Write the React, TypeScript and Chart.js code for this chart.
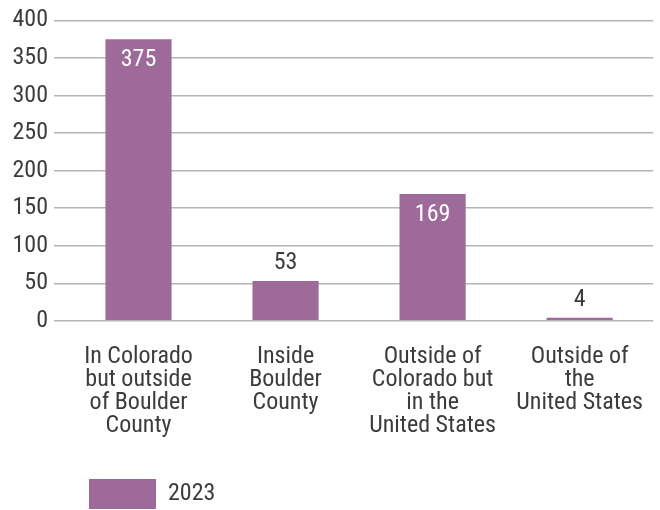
import React, { useEffect, useRef } from "react";
import { Chart, registerables } from "chart.js";

Chart.register(...registerables);

const categories: string[][] = [
  ["In Colorado", "but outside", "of Boulder", "County"],
  ["Inside", "Boulder", "County"],
  ["Outside of", "Colorado but", "in the", "United States"],
  ["Outside of", "the", "United States"],
];
const seriesLabel = "2023";
const values2023: number[] = [375, 53, 169, 4];
const yTicks = { min: 0, max: 400, step: 50 };

const FONT = "'Roboto Condensed', 'Liberation Sans Narrow', 'DejaVu Sans Condensed', Roboto, sans-serif";
const TEXT = "#3c3c3c";
const BAR = "#9d6a99";

const valueLabels = {
  id: "valueLabels",
  afterDatasetsDraw(chart: any) {
    const ctx = chart.ctx;
    const meta = chart.getDatasetMeta(0);
    const data = chart.data.datasets[0].data as number[];
    ctx.save();
    ctx.font = `24px ${FONT}`;
    ctx.textAlign = "center";
    ctx.textBaseline = "middle";
    meta.data.forEach((el: any, i: number) => {
      const v = data[i];
      if (v > 100) {
        ctx.fillStyle = "#ffffff";
        ctx.fillText(String(v), el.x, el.y + 21);
      } else {
        ctx.fillStyle = TEXT;
        ctx.fillText(String(v), el.x, el.y - 18);
      }
    });
    ctx.restore();
  },
};

export default function App() {
  const ref = useRef<HTMLCanvasElement>(null);
  useEffect(() => {
    document.body.style.margin = "0";
    const chart = new Chart(ref.current!, {
      type: "bar",
      data: {
        labels: categories,
        datasets: [
          {
            label: seriesLabel,
            data: values2023,
            backgroundColor: BAR,
            borderWidth: 0,
            categoryPercentage: 0.9,
            barPercentage: 0.5,
          },
        ],
      },
      options: {
        animation: false,
        responsive: false,
        layout: { padding: { top: 13, left: 8, right: 0, bottom: -9 } },
        plugins: {
          tooltip: { enabled: false },
          legend: {
            position: "bottom",
            align: "start",
            fullSize: false,
            labels: {
              boxWidth: 67,
              boxHeight: 30,
              padding: 24,
              color: TEXT,
              font: { family: FONT, size: 24 },
            },
          },
        },
        scales: {
          x: {
            grid: { display: false },
            border: { display: false },
            ticks: {
              color: TEXT,
              font: { family: FONT, size: 24, lineHeight: 0.96 },
              padding: 17,
              maxRotation: 0,
              autoSkip: false,
            },
          },
          y: {
            min: yTicks.min,
            max: yTicks.max,
            afterFit: (s: any) => {
              s.width = 57;
            },
            border: { display: false },
            grid: { color: "#b5b5b5", lineWidth: 1.5, tickLength: 11 },
            ticks: {
              stepSize: yTicks.step,
              color: TEXT,
              font: { family: FONT, size: 24 },
              padding: 6,
            },
          },
        },
      },
      plugins: [valueLabels],
    });
    return () => chart.destroy();
  }, []);
  return <canvas ref={ref} width={660} height={510} style={{ display: "block" }} />;
}
